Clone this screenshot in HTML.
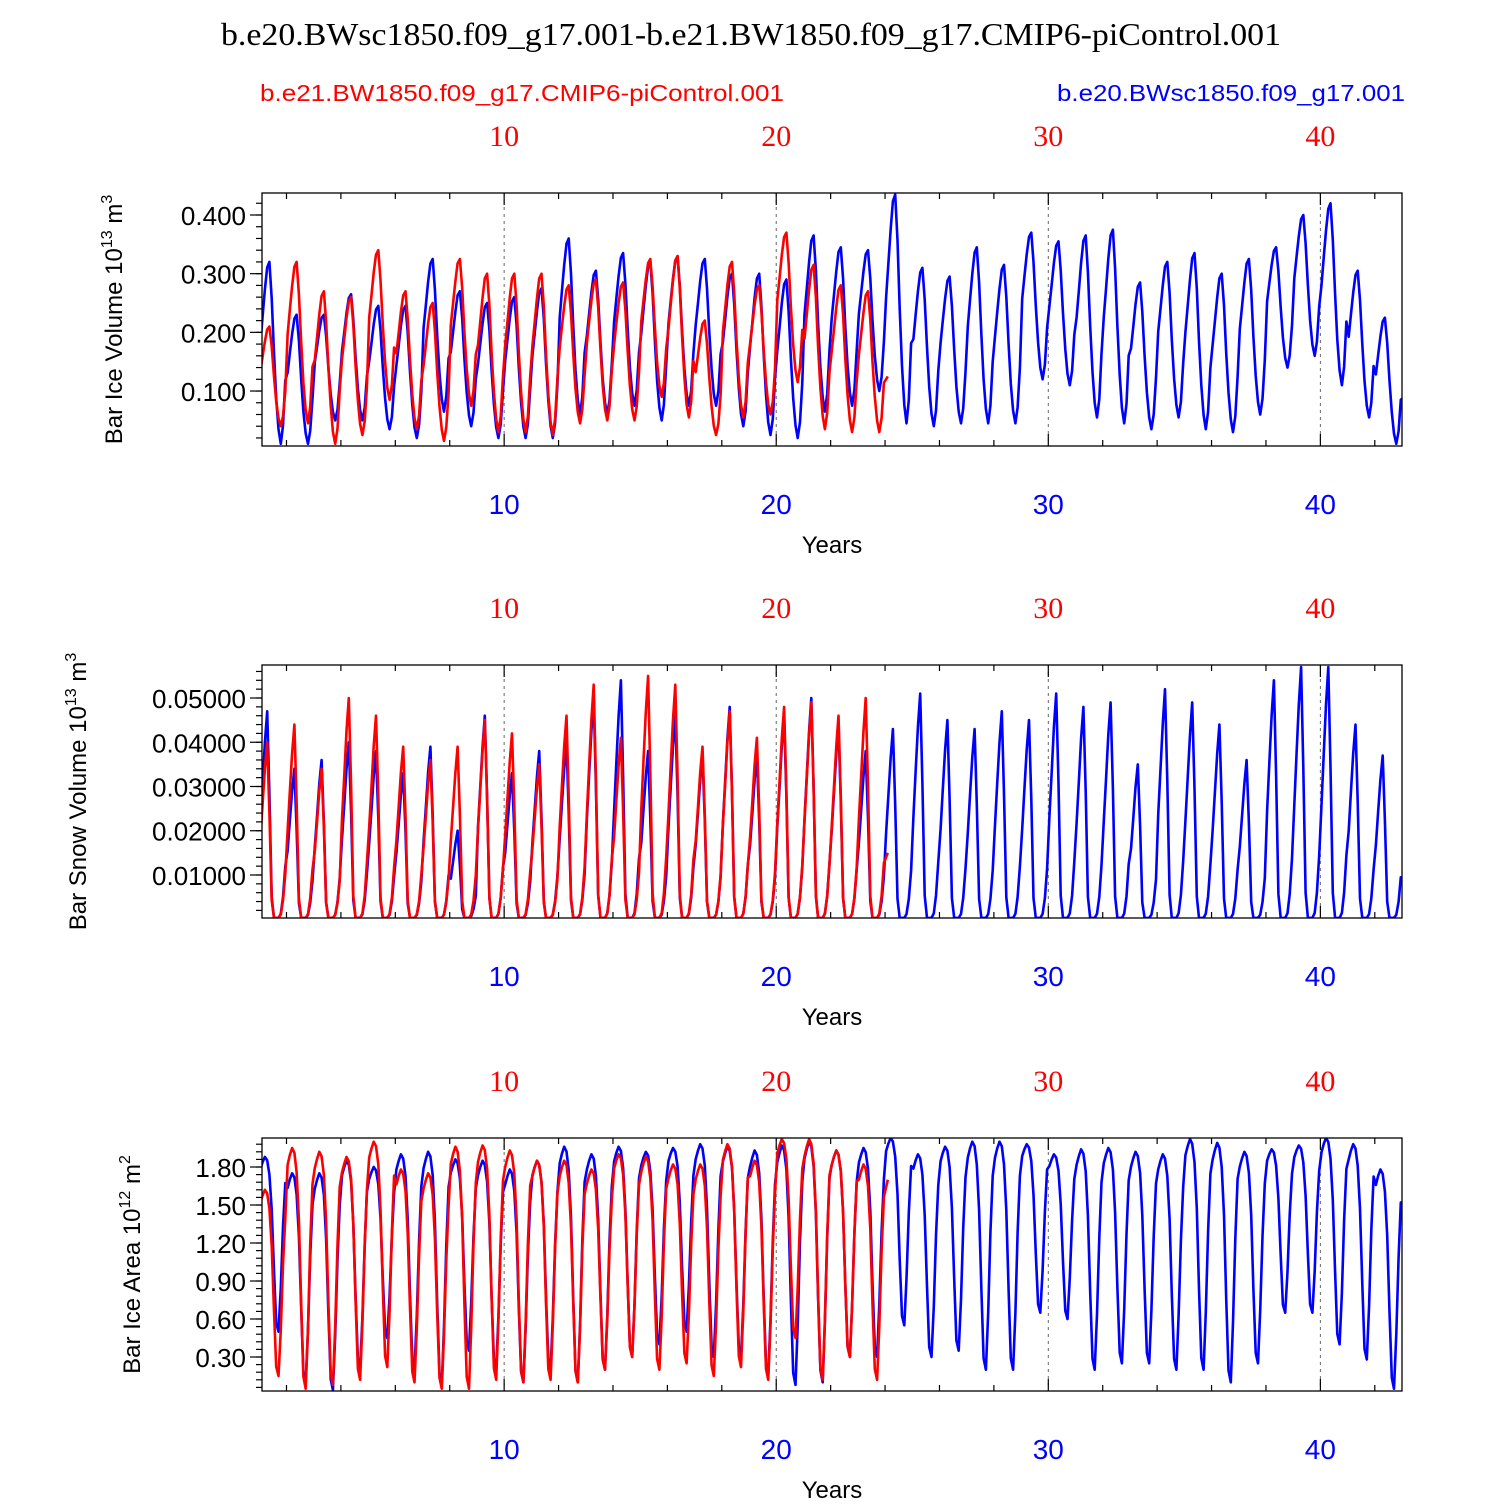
<!DOCTYPE html>
<html><head><meta charset="utf-8"><style>
html,body{margin:0;padding:0;background:#fff;}
svg text{font-family:"Liberation Sans",sans-serif;}
</style></head><body>
<svg id="chart" width="1500" height="1500" viewBox="0 0 1500 1500" xmlns="http://www.w3.org/2000/svg">
<text x="751" y="45" text-anchor="middle" style="font-family:'Liberation Serif',serif;font-size:32px" textLength="1060" lengthAdjust="spacingAndGlyphs">b.e20.BWsc1850.f09_g17.001-b.e21.BW1850.f09_g17.CMIP6-piControl.001</text>
<text x="260" y="101" fill="#f00" font-size="23" textLength="524" lengthAdjust="spacingAndGlyphs">b.e21.BW1850.f09_g17.CMIP6-piControl.001</text>
<text x="1057" y="101" fill="#00f" font-size="23" textLength="348" lengthAdjust="spacingAndGlyphs">b.e20.BWsc1850.f09_g17.001</text>
<g id="plots"></g>
</svg>
<script>
// Shared x-axis
const xTicks = [10, 20, 30, 40];
// Seasonal shapes (monthly fraction between trough and peak)
const shapeVol = [0.55,0.7,0.85,0.97,1.0,0.8,0.5,0.25,0.08,0.0,0.1,0.35];
const shapeSnow = [0.45,0.65,0.85,1.0,0.6,0.1,0.0,0.0,0.0,0.02,0.1,0.25];
const shapeArea = [0.93,0.97,1.0,0.98,0.9,0.7,0.35,0.05,0.0,0.25,0.6,0.85];

// Panel 1: ice volume (10^13 m^3)
const volBluePeak = [0.32,0.23,0.23,0.265,0.245,0.245,0.325,0.27,0.25,0.26,0.275,0.36,0.305,0.335,0.32,0.33,0.325,0.30,0.30,0.29,0.365,0.345,0.34,0.435,0.31,0.295,0.345,0.315,0.37,0.355,0.365,0.375,0.285,0.32,0.335,0.30,0.325,0.345,0.40,0.42,0.305,0.225];
const volBlueTrough = [0.01,0.01,0.05,0.05,0.035,0.02,0.065,0.04,0.02,0.02,0.02,0.06,0.06,0.075,0.05,0.075,0.075,0.04,0.025,0.02,0.065,0.075,0.10,0.045,0.04,0.045,0.045,0.045,0.12,0.11,0.055,0.045,0.035,0.055,0.035,0.03,0.06,0.14,0.16,0.11,0.055,0.01];
const volRedPeak = [0.21,0.32,0.27,0.26,0.34,0.27,0.25,0.325,0.30,0.30,0.30,0.28,0.29,0.285,0.325,0.33,0.22,0.32,0.28,0.37,0.315,0.28,0.27];
const volRedTrough = [0.04,0.045,0.01,0.025,0.085,0.035,0.015,0.075,0.03,0.03,0.025,0.045,0.05,0.05,0.09,0.055,0.025,0.055,0.06,0.115,0.035,0.03,0.03];
const volYTicks = [0.1,0.2,0.3,0.4];
const volYLabels = ["0.100","0.200","0.300","0.400"];

// Panel 2: snow volume (10^13 m^3)
const snowBluePeak = [0.047,0.034,0.036,0.040,0.038,0.033,0.039,0.020,0.046,0.033,0.038,0.040,0.050,0.054,0.038,0.046,0.037,0.048,0.037,0.046,0.050,0.044,0.038,0.043,0.051,0.045,0.043,0.047,0.045,0.051,0.048,0.049,0.035,0.052,0.049,0.044,0.036,0.054,0.057,0.057,0.044,0.037];
const snowBlueTrough = new Array(42).fill(0.0003);
const snowRedPeak = [0.040,0.044,0.034,0.050,0.046,0.039,0.036,0.039,0.045,0.042,0.035,0.046,0.053,0.041,0.055,0.053,0.039,0.047,0.041,0.048,0.049,0.046,0.050];
const snowRedTrough = new Array(23).fill(0.0003);
const snowYTicks = [0.01,0.02,0.03,0.04,0.05];
const snowYLabels = ["0.01000","0.02000","0.03000","0.04000","0.05000"];

// Panel 3: ice area (10^12 m^2)
const areaBluePeak = [1.88,1.75,1.75,1.85,1.80,1.90,1.92,1.86,1.85,1.78,1.85,1.96,1.90,1.96,1.92,1.95,1.98,1.96,1.93,1.97,2.0,1.93,1.95,2.03,1.90,1.96,2.0,2.0,1.98,1.90,1.94,1.95,1.92,1.90,2.02,1.99,1.92,1.94,1.97,2.03,1.98,1.78];
const areaBlueTrough = [0.5,0.1,0.04,0.2,0.45,0.2,0.08,0.35,0.2,0.1,0.2,0.1,0.2,0.3,0.4,0.5,0.3,0.3,0.15,0.08,0.1,0.3,0.3,0.55,0.3,0.35,0.2,0.2,0.65,0.6,0.2,0.25,0.25,0.2,0.2,0.1,0.25,0.65,0.65,0.4,0.28,0.05];
const areaRedPeak = [1.62,1.95,1.92,1.88,2.0,1.78,1.75,1.96,1.97,1.93,1.85,1.85,1.78,1.90,1.88,1.82,1.82,1.98,1.85,2.02,2.02,1.93,1.82];
const areaRedTrough = [0.15,0.05,0.08,0.12,0.22,0.1,0.05,0.05,0.12,0.10,0.12,0.1,0.2,0.3,0.2,0.25,0.15,0.22,0.12,0.45,0.12,0.3,0.12];
const areaYTicks = [0.3,0.6,0.9,1.2,1.5,1.8];
const areaYLabels = ["0.30","0.60","0.90","1.20","1.50","1.80"];

const NS = "http://www.w3.org/2000/svg";
const root = document.getElementById('plots');
const X0 = 262, X1 = 1402, XMIN = 1.1, XMAX = 43.0;
const xs = v => X0 + (v - XMIN) / (XMAX - XMIN) * (X1 - X0);

function mk(tag, attrs, parent){
  const e = document.createElementNS(NS, tag);
  for (const k in attrs) e.setAttribute(k, attrs[k]);
  (parent || root).appendChild(e);
  return e;
}

function series(peak, trough, shape, tail){
  const pts = [];
  for (let y = 0; y < peak.length; y++){
    for (let m = 0; m < 12; m++){
      const t = (y + 1) + m / 12 + 0.04;
      pts.push([t, trough[y] + (peak[y] - trough[y]) * shape[m]]);
    }
  }
  if (tail) pts.push(tail);
  return pts;
}

function panel(cfg){
  const g = mk('g', {});
  
  
  const {top, bot, ymin, ymax} = cfg;
  const ys = v => bot - (v - ymin) / (ymax - ymin) * (bot - top);
  const cid = 'clip-' + cfg.name;
  const cp = mk('clipPath', {id: cid}, g);
  mk('rect', {x: X0, y: top, width: X1 - X0, height: bot - top}, cp);
  xTicks.forEach(t => {
    const l = mk('line', {x1: xs(t), x2: xs(t), y1: top, y2: bot, stroke: '#666', 'stroke-width': 1, 'stroke-dasharray': '3,4'}, g);
    
    
  });
  const draw = (pts, color, nm) => {
    const d = pts.map((p, i) => (i ? 'L' : 'M') + xs(p[0]).toFixed(1) + ',' + ys(p[1]).toFixed(1)).join('');
    const p = mk('path', {d, fill: 'none', stroke: color, 'stroke-width': 2.6, 'stroke-linejoin': 'round', 'clip-path': 'url(#' + cid + ')'}, g);
    
    
  };
  draw(cfg.blue, '#00f', 'blue-series-line');
  draw(cfg.red, '#f00', 'red-series-line');
  const f = mk('rect', {x: X0, y: top, width: X1 - X0, height: bot - top, fill: 'none', stroke: '#000', 'stroke-width': 1.3}, g);
  
  
  for (let t = 2; t <= 42; t += 2){
    const len = (t % 10 === 0) ? 12 : 6;
    mk('line', {x1: xs(t), x2: xs(t), y1: bot, y2: bot - len, stroke: '#000', 'stroke-width': 1.2}, g);
    mk('line', {x1: xs(t), x2: xs(t), y1: top, y2: top + len, stroke: '#000', 'stroke-width': 1.2}, g);
  }
  xTicks.forEach(t => {
    const a = mk('text', {x: xs(t), y: bot + 68, 'text-anchor': 'middle', 'font-size': 28, fill: '#00f'}, g);
    a.textContent = t;
    
    
    const b = mk('text', {x: xs(t), y: top - 47, 'text-anchor': 'middle', 'font-size': 30, fill: '#f00', style: "font-family:'Liberation Serif',serif"}, g);
    b.textContent = t;
    
    
  });
  const xt = mk('text', {x: 832, y: bot + 107, 'text-anchor': 'middle', 'font-size': 24}, g);
  xt.textContent = 'Years';
  
  
  const step = cfg.minor;
  for (let v = Math.ceil(ymin / step) * step; v <= ymax + 1e-9; v += step){
    const yy = ys(v);
    mk('line', {x1: X0 - 6, x2: X0, y1: yy, y2: yy, stroke: '#000', 'stroke-width': 1.2}, g);
  }
  cfg.yTicks.forEach((v, i) => {
    const yy = ys(v);
    mk('line', {x1: X0 - 12, x2: X0, y1: yy, y2: yy, stroke: '#000', 'stroke-width': 1.2}, g);
    const t = mk('text', {x: X0 - 16, y: yy + 10, 'text-anchor': 'end', 'font-size': 26}, g);
    t.textContent = cfg.yLabels[i];
    
    
  });
  const yt = mk('text', {x: 0, y: 0, 'font-size': 24, 'text-anchor': 'middle', transform: 'translate(' + cfg.titleX + ',' + ((top + bot) / 2) + ') rotate(-90)'}, g);
  yt.innerHTML = cfg.title + ' 10<tspan dy="-10" font-size="16">' + cfg.exp + '</tspan><tspan dy="10"> m</tspan><tspan dy="-10" font-size="16">' + cfg.unitExp + '</tspan>';
  
  
}

panel({name: 'ice-volume-panel', top: 193, bot: 446, ymin: 0.0063, ymax: 0.4375, minor: 0.02,
  yTicks: volYTicks, yLabels: volYLabels, title: 'Bar Ice Volume', exp: '13', unitExp: '3', titleX: 122,
  blue: series(volBluePeak, volBlueTrough, shapeVol, [43.1, 0.09]),
  red: series(volRedPeak, volRedTrough, shapeVol, [24.1, 0.125])});
panel({name: 'snow-volume-panel', top: 665, bot: 918, ymin: 0.00028, ymax: 0.05746, minor: 0.002,
  yTicks: snowYTicks, yLabels: snowYLabels, title: 'Bar Snow Volume', exp: '13', unitExp: '3', titleX: 86,
  blue: series(snowBluePeak, snowBlueTrough, shapeSnow, [43.1, 0.008]),
  red: series(snowRedPeak, snowRedTrough, shapeSnow, [24.1, 0.015])});
panel({name: 'ice-area-panel', top: 1138, bot: 1391, ymin: 0.0316, ymax: 2.029, minor: 0.06,
  yTicks: areaYTicks, yLabels: areaYLabels, title: 'Bar Ice Area', exp: '12', unitExp: '2', titleX: 140,
  blue: series(areaBluePeak, areaBlueTrough, shapeArea, [43.1, 1.45]),
  red: series(areaRedPeak, areaRedTrough, shapeArea, [24.1, 1.7])});
</script>
</body></html>
